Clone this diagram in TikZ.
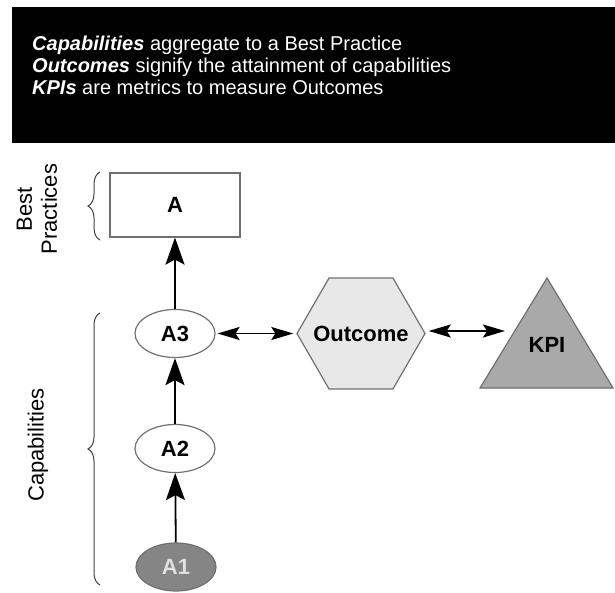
\documentclass[tikz,border=0pt]{standalone}
\usepackage{fontspec}
\setmainfont{Liberation Sans}
\usetikzlibrary{shapes.geometric,arrows.meta,decorations.pathreplacing}

\definecolor{edgegray}{HTML}{707070}
\definecolor{hexfill}{HTML}{E8E8E8}
\definecolor{trifill}{HTML}{A9A9A9}
\definecolor{darkfill}{HTML}{858585}
\definecolor{bracegray}{HTML}{404040}

\tikzset{
  lbl/.style={font=\fontsize{22}{24}\selectfont\bfseries},
  sidetext/.style={font=\fontsize{22}{25}\selectfont, rotate=90, align=center},
  practicebox/.style={draw=edgegray, line width=1.2pt, fill=white, rectangle,
    minimum width=130pt, minimum height=64pt, inner sep=0pt, lbl},
  capnode/.style={draw=edgegray, line width=1.2pt, fill=white, ellipse,
    minimum width=80pt, minimum height=48pt, inner sep=0pt, lbl},
  upflow/.style={line width=1.8pt, -{Stealth[length=27pt, width=19pt, inset=5pt]}},
  twoway/.style={line width=1.8pt,
    {Stealth[length=22pt, width=13pt, inset=4pt]}-{Stealth[length=22pt, width=13pt, inset=4pt]}},
  bracket/.style={draw=bracegray, line width=1pt,
    decorate, decoration={brace, amplitude=12pt}},
}

\begin{document}
\begin{tikzpicture}[x=1pt, y=-1pt]
  \useasboundingbox (0,0) rectangle (615,593);

  % banner with the three definitions
  \fill[black] (12,7) rectangle (615,143);
  \node[anchor=north west, align=left, text=white, inner sep=0pt,
        font=\fontsize{20}{22}\selectfont] (defs) at (32,36)
    {\textbf{\textit{Capabilities}} aggregate to a Best Practice\\
     \textbf{\textit{Outcomes}} signify the attainment of capabilities\\
     \textbf{\textit{KPIs}} are metrics to measure Outcomes};

  % best practice and its capabilities
  \node[practicebox] (a) at (175,205) {A};
  \node[capnode] (a3) at (175,333.5) {A3};
  \node[capnode] (a2) at (175,448.5) {A2};
  \node[capnode, fill=darkfill, text=white!88!black] (a1) at (176,567) {A1};

  \draw[upflow] (a1) -- (a2);
  \draw[upflow] (a2) -- (a3);
  \draw[upflow] (a3) -- (a);

  % outcome and KPI
  \node[draw=edgegray, line width=1.2pt, fill=hexfill, regular polygon,
        regular polygon sides=6, minimum size=128pt, inner sep=0pt,
        label={[lbl]center:Outcome}]
    (outcome) at (361,333.5) {};

  \draw[draw=edgegray, line width=1.2pt, fill=trifill]
    (480,388) -- (547,278) -- (613,388) -- cycle;
  \node[lbl] (kpi) at (547,345) {KPI};
  \coordinate (kpiin) at (505,331);

  \draw[twoway, shorten <=2pt, shorten >=3pt] (a3) -- (outcome);
  \draw[twoway, shorten <=3pt] (outcome.east |- kpiin) -- (kpiin);

  % braces and their captions
  \draw[bracket] (100,240) -- (100,172);
  \draw[bracket] (100,585) -- (100,313);
  \node[sidetext] (bp) at (37,209) {Best\\Practices};
  \node[sidetext] (caps) at (38,445) {Capabilities};
\end{tikzpicture}
\end{document}
